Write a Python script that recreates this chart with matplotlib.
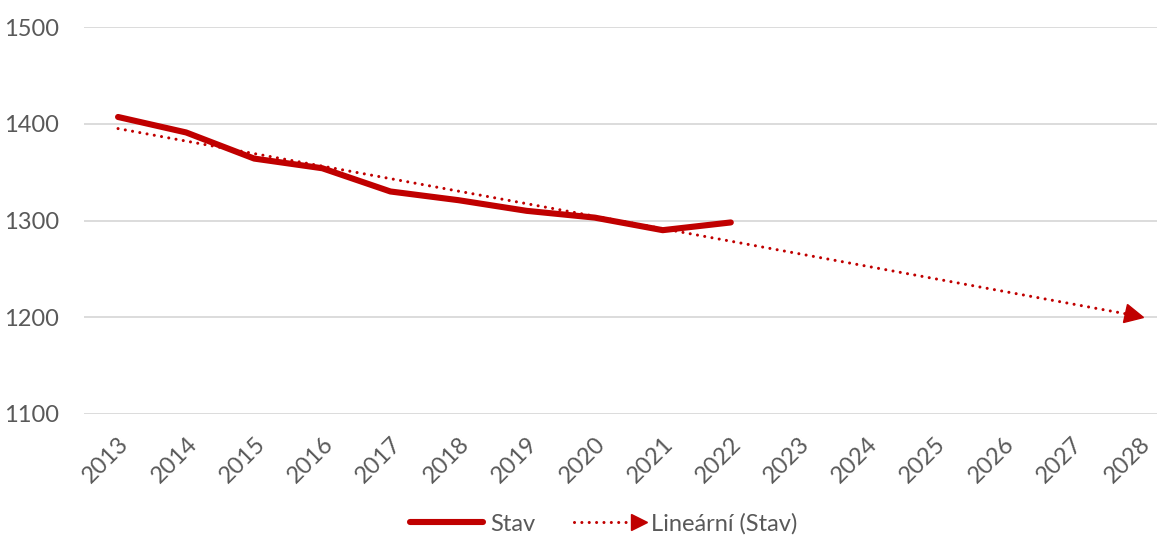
import numpy as np
import matplotlib
matplotlib.use("Agg")
import matplotlib.pyplot as plt
from matplotlib.lines import Line2D
from matplotlib.markers import MarkerStyle
from matplotlib.transforms import Affine2D

# data
years = [str(y) for y in range(2013, 2029)]
stav = [1407, 1391, 1364, 1354, 1330, 1321, 1310, 1303, 1290, 1298]
y_ticks = [1100, 1200, 1300, 1400, 1500]

RED = "#C00000"
GREY = "#595959"

plt.rcParams["font.family"] = ["Lato", "DejaVu Sans"]


class TrendHandler:
    # dotted line with a triangle at the right end, like the Excel legend
    def legend_artist(self, legend, orig_handle, fontsize, handlebox):
        x0, y0 = handlebox.xdescent, handlebox.ydescent
        w, h = handlebox.width, handlebox.height
        ln = Line2D([x0 + 2, x0 + w - 6], [y0 + h / 2] * 2, color=RED, lw=2.2,
                    linestyle=(0, (0.01, 2.4)), dash_capstyle="round",
                    transform=handlebox.get_transform())
        tip = Line2D([x0 + w - 4], [y0 + h / 2], color=RED, marker=">",
                     markersize=11, linestyle="none",
                     transform=handlebox.get_transform())
        handlebox.add_artist(ln)
        handlebox.add_artist(tip)
        return ln


def main():
    fig = plt.figure(figsize=(11.57, 5.37), dpi=100)
    ax = fig.add_axes([84 / 1157, 1 - 414 / 537, 1 - 84 / 1157, (414 - 27) / 537])

    x_all = np.arange(len(years))
    x_data = np.arange(len(stav))

    # linear trend fitted on Stav, extended to 2028
    k, q = np.polyfit(x_data, stav, 1)
    trend = k * x_all + q

    ax.plot(x_all, trend, color=RED, lw=2.2, linestyle=(0, (0.01, 2.4)),
            dash_capstyle="round", zorder=2)
    ang = np.degrees(np.arctan2(k * (387 / 400), 68.1))
    head = MarkerStyle(">", transform=Affine2D().rotate_deg(ang))
    ax.plot(x_all[-1] - 0.08, trend[-1] - 0.08 * k, marker=head, markersize=13,
            color=RED, linestyle="none", zorder=3)

    ax.plot(x_data, stav, color=RED, lw=4.4, solid_capstyle="round",
            solid_joinstyle="round", zorder=4)

    ax.set_xlim(-0.5, 15.26)
    ax.set_ylim(1100, 1500)
    ax.set_yticks(y_ticks)
    ax.set_xticks(x_all)
    ax.set_xticklabels(years, rotation=45, ha="right", rotation_mode="anchor")
    ax.tick_params(axis="both", length=0, labelsize=17, colors=GREY)
    ax.tick_params(axis="x", pad=14)
    ax.tick_params(axis="y", pad=18)
    ax.grid(axis="y", color="#D9D9D9", lw=1.3)
    ax.set_axisbelow(True)
    for s in ax.spines.values():
        s.set_visible(False)

    h1 = Line2D([], [], color=RED, lw=4.4, solid_capstyle="round")
    h2 = Line2D([], [], color=RED)
    fig.legend([h1, h2], ["Stav", "Lineární (Stav)"], loc="lower center",
               bbox_to_anchor=(0.522, -0.035), ncol=2, frameon=False,
               fontsize=17, labelcolor=GREY, handlelength=3.1,
               handletextpad=0.3, columnspacing=1.5,
               handler_map={h2: TrendHandler()})

    fig.savefig("out.png", dpi=100)


if __name__ == "__main__":
    main()
